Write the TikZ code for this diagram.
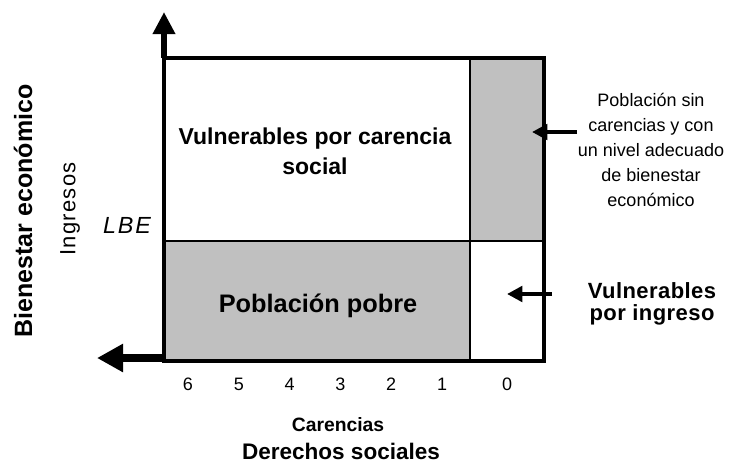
\documentclass[tikz,border=0pt]{standalone}
\usepackage{fontspec}
\setmainfont{Liberation Sans}
\usetikzlibrary{arrows.meta}

\begin{document}
\begin{tikzpicture}[x=0.75pt,y=0.75pt,yscale=-1,
  shaded/.style={fill={rgb, 255:red, 192; green, 192; blue, 192}},
  axisarrow/.style={line width=4.5pt,-{Triangle[length=16.5pt,width=16pt]}},
  pointer/.style={line width=3pt,-{Triangle[length=11.5pt,width=11.5pt]}},
  txt/.style={inner sep=0pt,align=center}]
\useasboundingbox (0,0) rectangle (730,464);

%Corners of the box
\coordinate (nw) at (164,58);
\coordinate (ne) at (544,58);
\coordinate (sw) at (164,361);
\coordinate (se) at (544,361);

%Shape: shaded cells
\fill [shaded] (470,58) rectangle (544,241);
\fill [shaded] (164,241) rectangle (470,361);
%Straight Lines: LBE line and zero column
\draw [line width=1.8pt] (164,241) -- (544,241);
\draw [line width=1.8pt] (470,58) -- (470,361);
%Shape: outer box
\draw [line width=3pt] (nw) rectangle (se);

%Axis arrows
\coordinate (ytip) at (164,12);
\coordinate (xtip) at (97,358);
\coordinate (xroot) at (164,358);
\draw [axisarrow] (nw) -- (ytip);
\draw [line width=6pt,-{Triangle[length=19.5pt,width=20pt]}] (xroot) -- (xtip);

% Text Node
\node [txt,font=\bfseries\fontsize{17.25}{22.5}\selectfont] (vpc) at (315,151) {Vulnerables por carencia\\social};
% Text Node
\node [txt,anchor=base,font=\bfseries\fontsize{19}{23}\selectfont] (pp) at (318,312) {Población pobre};
% Text Node
\node [txt,font=\fontsize{13.5}{18.75}\selectfont] (sinc) at (651,150) {Población sin\\carencias y con\\un nivel adecuado\\de bienestar\\económico};
% Text Node
\node [txt,font=\bfseries\fontsize{16.5}{17}\selectfont\addfontfeature{LetterSpace=2}] (vpi) at (652,304) {Vulnerables\\por ingreso};
% Text Node
\node [txt,anchor=base,font=\itshape\fontsize{17.5}{20}\selectfont\addfontfeature{LetterSpace=8}] (lbe) at (127,233) {LBE};
% Text Node
\node [txt,rotate=90,font=\fontsize{16.5}{18}\selectfont\addfontfeature{LetterSpace=6}] (ing) at (70,209) {Ingresos};
% Text Node
\node [txt,rotate=90,font=\bfseries\fontsize{18.75}{22}\selectfont] (bec) at (23,211) {Bienestar económico};
% Text Node
\node [txt,anchor=base,font=\bfseries\fontsize{14.5}{16}\selectfont] (car) at (338,431) {Carencias};
% Text Node
\node [txt,anchor=base,font=\bfseries\fontsize{16.9}{20}\selectfont] (der) at (341,459) {Derechos sociales};

%Numbers of carencias
\foreach \n [count=\i from 0] in {6,5,4,3,2,1}
  \node [txt,anchor=base,font=\fontsize{13.5}{16}\selectfont] (num\n) at (188+50.8*\i,390) {\n};
\node [txt,anchor=base,font=\fontsize{13.5}{16}\selectfont] (num0) at (507,390) {0};

%Pointers
\coordinate (tailA) at (577,132);
\coordinate (tipA) at (532,132);
\coordinate (tailB) at (552,294);
\coordinate (tipB) at (507,294);
\draw [pointer] (tailA) -- (tipA);
\draw [pointer] (tailB) -- (tipB);

\end{tikzpicture}
\end{document}
